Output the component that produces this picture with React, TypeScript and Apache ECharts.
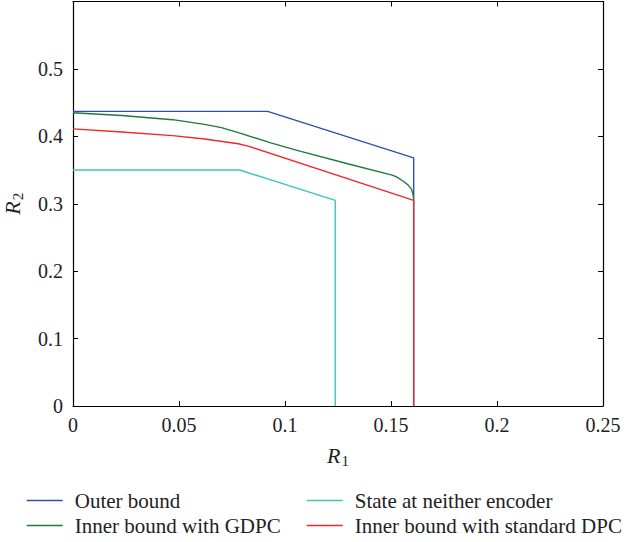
import React, { useEffect, useRef } from "react";
import * as echarts from "echarts";

const seriesNames = [
  "Outer bound",
  "Inner bound with GDPC",
  "State at neither encoder",
  "Inner bound with standard DPC",
];
const seriesColors = ["#3050a8", "#1e7b3c", "#3cc4c4", "#f02828"];

const outerX = [0, 0.0918, 0.1607, 0.1607];
const outerY = [0.437, 0.437, 0.368, 0];

const gdpcX = [0, 0.023, 0.047, 0.062, 0.07, 0.078, 0.0937, 0.107, 0.13, 0.151, 0.153, 0.156, 0.158, 0.1596, 0.1603, 0.1607];
const gdpcY = [0.435, 0.431, 0.4247, 0.4178, 0.413, 0.4054, 0.39, 0.378, 0.359, 0.342, 0.339, 0.333, 0.328, 0.322, 0.315, 0.307];

const neitherX = [0, 0.0786, 0.1237, 0.1237];
const neitherY = [0.35, 0.35, 0.305, 0];

const dpcX = [0, 0.023, 0.047, 0.062, 0.078, 0.083, 0.1607, 0.1607];
const dpcY = [0.411, 0.4064, 0.401, 0.396, 0.389, 0.385, 0.305, 0];

const xTicks = { min: 0, max: 0.25, interval: 0.05 };
const yTicks = { min: 0, max: 0.6, interval: 0.1 };

const FONT = "'Liberation Serif', 'DejaVu Serif', serif";

function pairs(xs: number[], ys: number[]) {
  return xs.map((x, i) => [x, ys[i]]);
}

export default function App() {
  const ref = useRef<HTMLDivElement>(null);
  useEffect(() => {
    if (!ref.current) return;
    const chart = echarts.init(ref.current, null, { renderer: "svg" });
    const axisCommon = {
      axisLine: { show: true, onZero: false, lineStyle: { color: "#000", width: 1.2 } },
      axisTick: { show: true, inside: true, length: 5, lineStyle: { color: "#000", width: 1 } },
      splitLine: { show: false },
    };
    const labelStyle = { color: "#222", fontFamily: FONT, fontSize: 20 };
    const datasets = [
      pairs(outerX, outerY),
      pairs(gdpcX, gdpcY),
      pairs(neitherX, neitherY),
      pairs(dpcX, dpcY),
    ];
    const nameRich = {
      r: { fontFamily: FONT, fontStyle: "italic", fontSize: 22, color: "#222" },
      s: { fontFamily: FONT, fontSize: 15, color: "#222", padding: [10, 0, 0, 1] },
    };
    const legendCommon = {
      orient: "vertical",
      top: 490,
      height: 52,
      padding: 0,
      itemWidth: 36,
      itemHeight: 12,
      itemGap: 4,
      itemStyle: { opacity: 0 },
      lineStyle: { width: 1.5 },
      textStyle: { fontFamily: FONT, fontSize: 21, color: "#222", padding: [0, 0, 0, 7] },
    };
    chart.setOption({
      animation: false,
      backgroundColor: "#fff",
      grid: { left: 73, right: 26, top: 1.5, bottom: 136, outerBoundsMode: "none" },
      xAxis: [
        {
          type: "value",
          ...xTicks,
          position: "bottom",
          ...axisCommon,
          axisLabel: { ...labelStyle, margin: 9 },
          name: "{r|R}{s|1}",
          nameLocation: "middle",
          nameGap: 37,
          nameTextStyle: { rich: nameRich },
        },
        {
          type: "value",
          ...xTicks,
          position: "top",
          ...axisCommon,
          axisLabel: { show: false },
        },
      ],
      yAxis: [
        {
          type: "value",
          ...yTicks,
          position: "left",
          ...axisCommon,
          axisLabel: {
            ...labelStyle,
            margin: 10,
            formatter: (v: number) => (v >= 0.59 ? "" : String(Math.round(v * 10) / 10)),
          },
          name: "{r|R}{s|2}",
          nameLocation: "middle",
          nameRotate: 90,
          nameGap: 48,
          nameTextStyle: { rich: nameRich },
        },
        {
          type: "value",
          ...yTicks,
          position: "right",
          ...axisCommon,
          axisLabel: { show: false },
        },
      ],
      legend: [
        { ...legendCommon, data: [seriesNames[0], seriesNames[1]], left: 26 },
        { ...legendCommon, data: [seriesNames[2], seriesNames[3]], left: 306 },
      ],
      series: datasets.map((d, i) => ({
        name: seriesNames[i],
        type: "line",
        data: d,
        symbol: "none",
        showSymbol: false,
        smooth: false,
        color: seriesColors[i],
        lineStyle: { color: seriesColors[i], width: 1.4 },
        xAxisIndex: 0,
        yAxisIndex: 0,
        z: i + 2,
      })),
    });
    return () => chart.dispose();
  }, []);
  return <div ref={ref} style={{ width: 629, height: 542, position: "absolute", left: 0, top: 0 }} />;
}
